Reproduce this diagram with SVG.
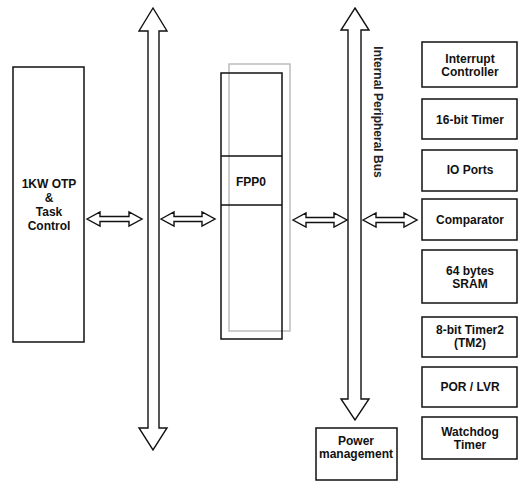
<svg xmlns="http://www.w3.org/2000/svg" width="525" height="490" viewBox="0 0 525 490">
<style>
.box{fill:none;stroke:#111;stroke-width:1.5}
.ghost{fill:none;stroke:#bdbdbd;stroke-width:1.5}
.arr{fill:#fff;stroke:#111;stroke-width:1.4;stroke-linejoin:miter}
.t{font-family:"Liberation Sans",Arial,sans-serif;font-weight:bold;font-size:12px;fill:#111;text-anchor:middle}
.v{font-family:"Liberation Sans",Arial,sans-serif;font-weight:bold;font-size:12px;fill:#222}
</style>
<rect width="525" height="490" fill="#fff"/>
<g id="connectors">
<polygon class="arr" points="153,8 167,31 159,31 159,428 167,428 153,450 139,428 148,428 148,31 139,31"/>
<polygon class="arr" points="355,8 369,30 361,30 361,399 369,399 355,420 341,399 348,399 348,30 341,30"/>
<polygon class="arr" points="87,219 100,212 100,216.5 129,216.5 129,212 142,219 129,226 129,221.5 100,221.5 100,226"/>
<polygon class="arr" points="161,219 174,212 174,216.5 202,216.5 202,212 215,219 202,226 202,221.5 174,221.5 174,226"/>
<polygon class="arr" points="293,220 306,213 306,217.5 334,217.5 334,213 347,220 334,227 334,222.5 306,222.5 306,227"/>
<polygon class="arr" points="363,220 376,213 376,217.5 404,217.5 404,213 417,220 404,227 404,222.5 376,222.5 376,227"/>
<text class="v" transform="translate(373.5,112) rotate(90)" text-anchor="middle">Internal Peripheral Bus</text>
</g>
<g id="otp">
<rect class="box" x="13" y="67" width="71" height="275"/>
<text class="t" x="49" y="188">1KW OTP</text>
<text class="t" x="49" y="202">&amp;</text>
<text class="t" x="49" y="216">Task</text>
<text class="t" x="49" y="230">Control</text>
</g>
<g id="fpp0">
<rect class="ghost" x="229" y="64" width="61" height="267"/>
<rect class="box" x="221" y="73" width="61" height="266"/>
<line class="box" x1="221" y1="156" x2="282" y2="156"/>
<line class="box" x1="221" y1="205" x2="282" y2="205"/>
<text class="t" x="251" y="186">FPP0</text>
</g>
<g id="interrupt">
<rect class="box" x="422" y="42" width="95" height="45"/>
<text class="t" x="470" y="63">Interrupt</text>
<text class="t" x="470" y="76">Controller</text>
</g>
<g id="timer16">
<rect class="box" x="422" y="99" width="95" height="40"/>
<text class="t" x="470" y="124">16-bit Timer</text>
</g>
<g id="ioports">
<rect class="box" x="422" y="150" width="95" height="41"/>
<text class="t" x="470" y="174">IO Ports</text>
</g>
<g id="comparator">
<rect class="box" x="422" y="199" width="95" height="41"/>
<text class="t" x="470" y="224">Comparator</text>
</g>
<g id="sram">
<rect class="box" x="422" y="250" width="95" height="53"/>
<text class="t" x="470" y="275">64 bytes</text>
<text class="t" x="470" y="288">SRAM</text>
</g>
<g id="timer2">
<rect class="box" x="422" y="317" width="95" height="40"/>
<text class="t" x="470" y="334">8-bit Timer2</text>
<text class="t" x="470" y="347">(TM2)</text>
</g>
<g id="porlvr">
<rect class="box" x="422" y="367" width="95" height="40"/>
<text class="t" x="470" y="391">POR / LVR</text>
</g>
<g id="watchdog">
<rect class="box" x="422" y="417" width="95" height="42"/>
<text class="t" x="470" y="436">Watchdog</text>
<text class="t" x="470" y="449">Timer</text>
</g>
<g id="power">
<rect class="box" x="316" y="428" width="81" height="52"/>
<text class="t" x="356" y="445">Power</text>
<text class="t" x="356" y="458">management</text>
</g>
</svg>
